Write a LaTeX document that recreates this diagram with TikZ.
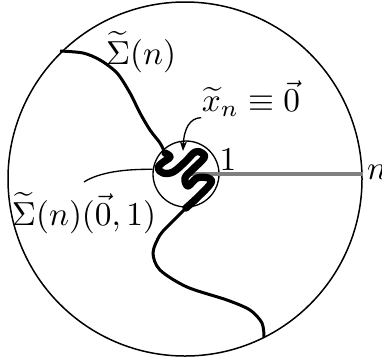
\documentclass[tikz,border=0pt]{standalone}
\usepackage{amsmath}
\usepackage{amssymb}
\usetikzlibrary{arrows.meta}

\tikzset{
  leader/.style={line width=0.4pt},
  trace/.style={line width=0.9pt},
  tangle/.style={line width=2.2pt,line cap=round,line join=round},
  tag/.style={inner sep=0pt}
}

\begin{document}
\begin{tikzpicture}[x=0.3pt,y=-0.3pt,>=Latex]
  \useasboundingbox (0,0) rectangle (382,359);
  % domain and unit ball
  \node[circle,draw,line width=0.45pt,minimum size=106.2pt,inner sep=0pt] (disk) at (185,179) {};
  \node[circle,draw,line width=0.4pt,minimum size=19.8pt,inner sep=0pt] (ball) at (186,174) {};
  \draw[gray,line width=1pt] (ball.center) -- (ball.center -| disk.east);
  % the surface
  \draw[trace] plot[smooth] coordinates {(60,51) (83,53) (100,60) (117,73) (130,93)
    (140,113) (150,130) (160,143) (165,153)};
  \draw[tangle] plot[smooth,tension=0.6] coordinates {(165,153) (170,157) (162,163)
    (158,168) (163,173) (173,172) (185,162) (195,152) (202,153) (204,158) (192,170)
    (185,178) (188,186) (197,178) (208,178) (211,183) (198,197) (186,208)};
  \draw[trace] plot[smooth] coordinates {(186,208) (172,222) (160,235) (153,253)
    (160,270) (187,287) (227,300) (250,310) (262,323) (264,337)};
  % labels
  \node[tag] (sig) at (141,52) {$\widetilde{\Sigma}(n)$};
  \node[tag] (xn) at (251,99) {$\widetilde{x}_n\equiv\vec{0}$};
  \node[tag] (one) at (228,160) {$1$};
  \node[tag] (rad) at (377,172) {$n$};
  \node[tag] (sigb) at (84,213) {$\widetilde{\Sigma}(n)(\vec{0},1)$};
  \coordinate (tip) at (183,151);
  \coordinate (sigtop) at ([yshift=3pt]sigb.north);
  \draw[leader,-{Stealth[length=3pt,width=2.2pt]}] (xn.south west)
    .. controls (190,118) and (184,128) .. (tip);
  \draw[leader] (sigtop) .. controls (100,172) and (125,169) .. (ball.172);
\end{tikzpicture}
\end{document}
